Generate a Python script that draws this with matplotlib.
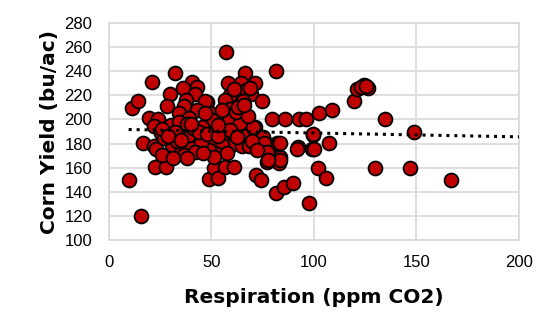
import numpy as np
import matplotlib
matplotlib.use("Agg")
import matplotlib.pyplot as plt

# soil respiration (ppm CO2) vs corn yield (bu/ac)
resp = [9.6, 15.7, 11.2, 14.4, 20.9, 32.0, 57.1, 81.6, 66.3, 58.1,
        64.6, 71.4, 67.0, 69.4, 59.2, 56.8, 65.4, 74.6, 58.7, 47.9,
        49.5, 50.3, 58.4, 64.1, 79.5, 85.9, 92.9, 96.1, 71.4, 66.5,
        57.6, 61.7, 75.2, 99.5, 59.2, 64.9, 75.2, 81.9, 92.2, 40.3,
        43.0, 36.1, 29.8, 42.2, 37.4, 46.8, 28.5, 36.6, 43.0, 46.8,
        34.1, 39.0, 19.6, 24.1, 30.1, 22.0, 45.5, 36.6, 25.2, 42.2,
        31.7, 16.7, 22.0, 30.9, 39.0, 47.1, 50.3, 22.5, 27.7, 22.8,
        26.0, 35.8, 40.6, 45.5, 36.6, 48.7, 51.1, 53.2, 56.8, 60.8,
        71.7, 74.3, 81.4, 85.4, 89.7, 97.7, 77.3, 83.0, 78.6, 83.5,
        98.9, 77.0, 82.4, 50.3, 55.0, 68.1, 51.9, 57.6, 48.7, 102.6,
        108.9, 134.9, 119.4, 121.0, 124.3, 126.4, 99.7, 107.1, 100.1, 102.1,
        106.1, 129.6, 146.9, 149.0, 166.8, 83.5, 83.5, 39.0, 44.7, 51.1,
        59.2, 62.5, 70.5, 75.4, 77.0, 77.8, 91.6, 33.0, 33.0, 34.0,
        38.0, 41.0, 44.0, 48.0, 53.0, 27.0, 32.0, 40.0, 26.0, 29.0,
        35.0, 42.0, 46.0, 53.0, 55.0, 62.0, 68.0, 63.0, 70.0, 72.0,
        66.0, 31.0, 38.0, 123.0, 125.5, 61.0, 69.0]
yld = [150.0, 119.5, 209.7, 215.5, 230.7, 238.7, 256.0, 240.4, 238.7, 230.4,
       230.4, 230.4, 224.4, 220.8, 220.2, 216.0, 215.5, 215.5, 209.0, 214.7,
       205.6, 199.5, 199.5, 196.8, 200.3, 200.3, 200.3, 200.3, 193.4, 186.2,
       185.2, 185.4, 185.7, 187.0, 178.0, 178.0, 178.0, 180.2, 177.4, 230.7,
       227.2, 226.3, 221.0, 220.8, 216.0, 215.5, 211.0, 211.0, 207.8, 205.6,
       205.6, 200.9, 200.9, 200.3, 195.4, 194.5, 193.4, 191.2, 188.5, 185.7,
       186.2, 180.2, 178.0, 178.8, 178.0, 180.2, 181.5, 160.3, 160.3, 175.2,
       170.5, 174.6, 176.0, 178.8, 170.5, 150.3, 159.4, 151.2, 160.3, 160.3,
       153.9, 149.8, 139.2, 144.2, 147.5, 130.4, 164.9, 164.1, 170.5, 168.6,
       175.2, 179.6, 179.6, 178.0, 179.0, 178.0, 171.9, 171.9, 174.6, 205.6,
       207.8, 200.3, 215.5, 225.0, 228.5, 226.3, 187.6, 180.7, 175.2, 160.0,
       151.7, 160.0, 160.0, 189.8, 149.8, 180.4, 166.3, 187.0, 180.2, 169.0,
       191.2, 185.7, 194.0, 180.2, 173.4, 166.3, 175.2, 182.0, 190.0, 198.0,
       196.0, 193.0, 190.0, 188.0, 186.0, 185.0, 190.0, 196.0, 192.0, 186.0,
       183.0, 173.0, 172.0, 195.0, 208.0, 206.0, 203.0, 210.0, 182.0, 175.0,
       212.0, 168.0, 168.0, 227.0, 228.0, 225.0, 226.0]

x_ticks = [0, 50, 100, 150, 200]
y_ticks = [100, 120, 140, 160, 180, 200, 220, 240, 260, 280]

plt.rcParams['font.family'] = ['Liberation Sans', 'DejaVu Sans']

fig = plt.figure(figsize=(5.58, 3.35), dpi=100)
ax = fig.add_axes([0.1953, 0.2836, 0.7347, 0.6477])

ax.scatter(resp, yld, s=100, c='#C00000', edgecolors='black', linewidths=1.3, zorder=3)

# linear trendline, forecast out to the axis edge
slope, icpt = np.polyfit(resp, yld, 1)
xt = np.array([min(resp), 200])
ax.plot(xt, slope * xt + icpt, color='black', linestyle=(0, (1, 1.6)), linewidth=2.2, zorder=4)

ax.set_xlim(0, 200)
ax.set_ylim(100, 280)
ax.set_xticks(x_ticks)
ax.set_yticks(y_ticks)
ax.grid(True, color='#D9D9D9', linewidth=1.2, zorder=0)
ax.set_axisbelow(True)
for sp in ax.spines.values():
    sp.set_color('#D9D9D9')
    sp.set_linewidth(1.2)
ax.tick_params(length=0, labelsize=12, colors='black')
ax.tick_params(axis='y', pad=12)
ax.tick_params(axis='x', pad=11)

ax.set_xlabel('Respiration (ppm CO2)', fontsize=14.5, fontweight='bold',
              family='DejaVu Sans', labelpad=13)
ax.set_ylabel('Corn Yield (bu/ac)', fontsize=14.5, fontweight='bold',
              family='DejaVu Sans', labelpad=4)

fig.savefig('out.png', dpi=100)
